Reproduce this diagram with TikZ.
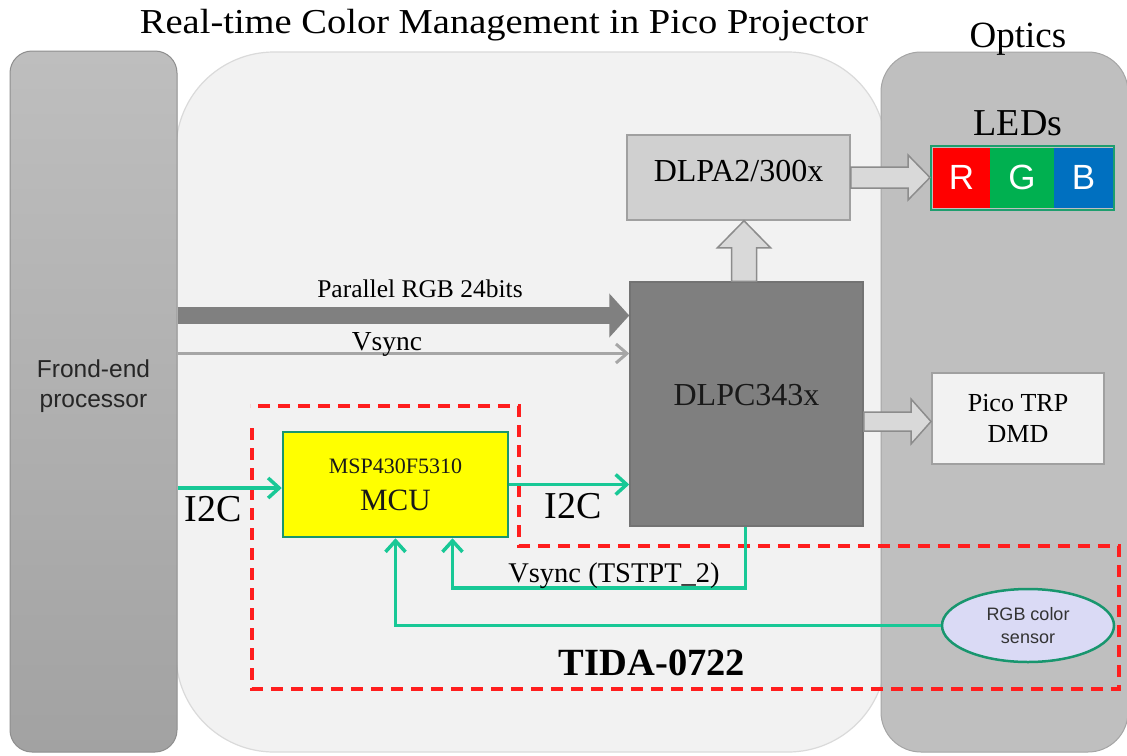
\documentclass[tikz,border=0pt]{standalone}
\usepackage{graphicx}
\usepackage{fontspec}
\setmainfont{Liberation Serif}
\setsansfont{Liberation Sans}
\usetikzlibrary{arrows.meta,calc,shapes.geometric}
\definecolor{panel}{HTML}{F2F2F2}
\definecolor{panelrim}{HTML}{DADADA}
\definecolor{fetop}{HTML}{BEBEBE}
\definecolor{febot}{HTML}{A2A2A2}
\definecolor{ferim}{HTML}{8E8E8E}
\definecolor{optfill}{HTML}{BFBFBF}
\definecolor{optrim}{HTML}{A5A5A5}
\definecolor{dlpafill}{HTML}{D0D0D0}
\definecolor{boxrim}{HTML}{A0A0A0}
\definecolor{dlpcfill}{HTML}{7F7F7F}
\definecolor{dlpcrim}{HTML}{737373}
\definecolor{blockfill}{HTML}{D9D9D9}
\definecolor{blockrim}{HTML}{8C8C8C}
\definecolor{busgray}{HTML}{808080}
\definecolor{syncgray}{HTML}{A6A6A6}
\definecolor{sig}{RGB}{24,200,150}
\definecolor{mcurim}{RGB}{24,150,110}
\definecolor{mcufill}{HTML}{FFFF00}
\definecolor{tidared}{RGB}{255,30,30}
\definecolor{ledR}{HTML}{FF0000}
\definecolor{ledG}{HTML}{00B050}
\definecolor{ledB}{HTML}{0070C0}
\definecolor{ledrim}{HTML}{1E9E6E}
\definecolor{sensfill}{RGB}{218,218,245}
\definecolor{senstext}{HTML}{333333}
\tikzset{
  plainbox/.style={rectangle, inner sep=0pt, line width=1.5pt},
  ledcell/.style={rectangle, inner sep=0pt, minimum height=60pt, text=white,
    font=\sffamily\fontsize{35}{40}\selectfont},
  blockarrow/.style={fill=blockfill, draw=blockrim, line width=1.5pt, line join=miter},
  sigline/.style={draw=sig, line width=3.5pt, -{Straight Barb[length=11pt,width=20pt]}},
  tidabound/.style={draw=tidared, line width=3.5pt, dash pattern=on 12pt off 8pt},
  textlabel/.style={anchor=base, inner sep=0pt}
}
\begin{document}
\begin{tikzpicture}[x=1pt,y=-1pt]
\useasboundingbox (0,0) rectangle (1127,755);
\fill[white] (0,0) rectangle (1127,755);

% central panel
\draw[fill=panel, draw=panelrim, line width=1.2pt, rounded corners=98pt] (176,52) rectangle (886,752);

% optics panel
\node[draw=optrim, fill=optfill, line width=1pt, rounded corners=40pt, minimum width=247pt,
  minimum height=700pt, inner sep=0pt] (optics) at (1004.5,402) {};

% front-end processor
\node[top color=fetop, bottom color=febot, draw=ferim, line width=1pt, rounded corners=22pt,
  minimum width=167pt, minimum height=701pt, inner sep=0pt] (fe) at (93.5,401.5) {};
\node[align=center, font=\sffamily\fontsize{24.5}{30}\selectfont, text=black!85] (fetext)
  at ($(fe.center)+(0,-15)$) {Frond-end\\processor};

% titles
\node[textlabel, font=\fontsize{35}{40}\selectfont] (title) at (504,33)
  {\scalebox{1.1}[1]{Real-time Color Management in Pico Projector}};
\node[textlabel, font=\fontsize{37}{44}\selectfont] (opticslabel) at (1018,47) {Optics};
\node[textlabel, font=\fontsize{38}{44}\selectfont] (ledslabel) at (1018,135) {LEDs};

% LEDs strip
\node[draw=ledrim, line width=2pt, minimum width=183pt, minimum height=64pt, inner sep=0pt] (leds) at (1022.5,177.5) {};
\node[ledcell, fill=ledR, minimum width=57pt] (ledr) at (961.5,177.5) {R};
\node[ledcell, fill=ledG, minimum width=64pt] (ledg) at (1022,177.5) {G};
\node[ledcell, fill=ledB, minimum width=59pt] (ledb) at (1083.5,177.5) {B};

% DLPA2
\node[plainbox, fill=dlpafill, draw=boxrim, minimum width=223pt, minimum height=85pt,
  font=\fontsize{32}{36}\selectfont, text depth=13pt] (dlpa) at (738.5,177.5) {DLPA2/300x};

% DLPC
\node[plainbox, fill=dlpcfill, draw=dlpcrim, minimum width=233pt, minimum height=244pt,
  font=\fontsize{32}{36}\selectfont, text=black!90, text depth=18pt] (dlpc) at (746.5,404) {DLPC343x};

% Pico TRP DMD
\node[plainbox, fill=panel, draw=boxrim, line width=2pt, minimum width=172pt, minimum height=91pt,
  align=center, font=\fontsize{26}{31}\selectfont] (pico) at (1018,418.5) {Pico TRP\\DMD};

% block arrows
\filldraw[blockarrow] ($(dlpa.east)+(0,-10.5)$) -- ($(leds.west)+(-22,-10.5)$) -- ($(leds.west)+(-22,-22.5)$)
  -- (leds.west) -- ($(leds.west)+(-22,22.5)$) -- ($(leds.west)+(-22,10.5)$) -- ($(dlpa.east)+(0,10.5)$) -- cycle;
\coordinate (ub) at ($(dlpc.north)+(-2.5,0)$);
\coordinate (ut) at (ub |- dlpa.south);
\filldraw[blockarrow] ($(ub)+(-12.5,0)$) -- ($(ut)+(-12.5,27)$) -- ($(ut)+(-26.5,27)$) -- (ut)
  -- ($(ut)+(26.5,27)$) -- ($(ut)+(12.5,27)$) -- ($(ub)+(12.5,0)$) -- cycle;
\coordinate (pt) at ($(pico.west)+(0,3)$);
\coordinate (pb) at (dlpc.east |- pt);
\filldraw[blockarrow] ($(pb)+(0,-9.5)$) -- ($(pt)+(-20,-9.5)$) -- ($(pt)+(-20,-22.5)$) -- (pt)
  -- ($(pt)+(-20,22.5)$) -- ($(pt)+(-20,9.5)$) -- ($(pb)+(0,9.5)$) -- cycle;

% parallel bus and Vsync
\coordinate (busy) at (0,315.5);
\draw[draw=busgray, line width=17pt, -{Triangle[length=20pt,width=43pt]}] (fe.east |- busy) -- (dlpc.west |- busy);
\node[textlabel, font=\fontsize{25.5}{30}\selectfont] (buslabel) at (420,297) {Parallel RGB 24bits};
\coordinate (vsy) at (0,353.5);
\draw[draw=syncgray, line width=3pt, -{Straight Barb[length=11pt,width=19pt]}] (fe.east |- vsy) -- (dlpc.west |- vsy);
\node[textlabel, font=\fontsize{27.5}{32}\selectfont] (vsynclabel) at (387,350) {Vsync};

% TIDA boundary
\draw[tidabound] (252,428) -- (252,689) -- (1119,689) -- (1119,546) -- (519,546) -- (519,406) -- (250,406);

% MCU
\node[plainbox, fill=mcufill, draw=mcurim, line width=2.5pt, minimum width=225pt, minimum height=105pt,
  align=center, font=\fontsize{31}{37}\selectfont, text=black!90] (mcu) at (395.5,484.5)
  {{\fontsize{22}{25}\selectfont MSP430F5310}\\MCU};

% sensor
\node[ellipse, draw=mcurim, line width=2.5pt, fill=sensfill, minimum width=172pt, minimum height=73pt,
  inner sep=0pt, align=center, font=\sffamily\fontsize{18}{23}\selectfont, text=senstext] (sensor)
  at (1028,625.5) {RGB color\\sensor};

% signal lines
\coordinate (i2cin) at ($(mcu.west)+(0,3.5)$);
\draw[sigline] (fe.east |- i2cin) -- (i2cin);
\draw[sigline] (mcu.east) -- (mcu.east -| dlpc.west);
\coordinate (vsout) at ($(dlpc.south)+(-1,0)$);
\coordinate (vsin) at ($(mcu.south)+(57,0)$);
\draw[sigline] (vsout) -- ++(0,61) -| (vsin);
\draw[sigline] (sensor.west) -| (mcu.south);

% labels
\node[textlabel, font=\fontsize{38}{42}\selectfont] (i2cleft) at (213,521) {I2C};
\node[textlabel, font=\fontsize{38}{42}\selectfont] (i2cright) at (573,518) {I2C};
\node[textlabel, font=\fontsize{28.5}{32}\selectfont] (vsynctst) at (614,582) {Vsync (TSTPT\_2)};
\node[textlabel, font=\bfseries\fontsize{38.5}{44}\selectfont] (tida) at (652,675) {TIDA-0722};
\end{tikzpicture}
\end{document}
